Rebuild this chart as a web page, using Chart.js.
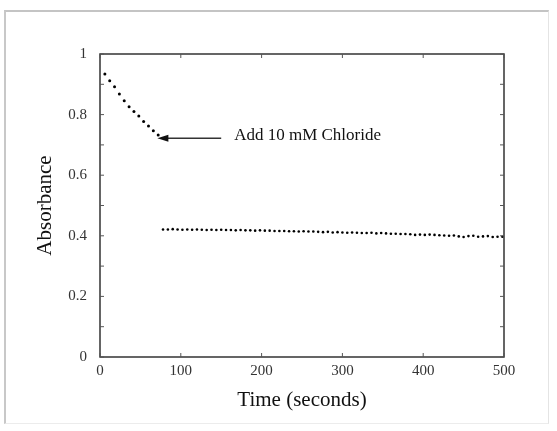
<!DOCTYPE html>
<html>
<head>
<meta charset="utf-8">
<script src="https://cdn.jsdelivr.net/npm/chart.js@4/dist/chart.umd.min.js"></script>
<style>
  html, body { margin: 0; padding: 0; background: #ffffff; }
  #wrap { position: relative; width: 557px; height: 431px; }
  #frame { position: absolute; left: 4px; top: 10px; width: 545px; height: 414px;
           border-top: 2px solid #c4c4c4; border-left: 2px solid #c8c8c8;
           border-right: 1px solid #e4e4e4; border-bottom: 1px solid #ececec; box-sizing: border-box; }
  canvas { position: absolute; left: 0; top: 0; }
</style>
</head>
<body>
<div id="wrap"><div id="frame"></div><canvas id="c" width="557" height="431"></canvas></div>
<script>
// Segment 1: before chloride addition
const timeBefore = [6, 12, 18, 24, 30, 36, 42, 48, 54, 60, 66, 72];
const absBefore  = [0.934, 0.912, 0.892, 0.868, 0.846, 0.826, 0.810, 0.795, 0.777, 0.762, 0.747, 0.733];

// Segment 2: after chloride addition
const timeAfter = [
  78, 84, 90, 96, 102, 108, 114, 120, 126, 132,
  138, 144, 150, 156, 162, 168, 174, 180, 186, 192,
  198, 204, 210, 216, 222, 228, 234, 240, 246, 252,
  258, 264, 270, 276, 282, 288, 294, 300, 306, 312,
  318, 324, 330, 336, 342, 348, 354, 360, 366, 372,
  378, 384, 390, 396, 402, 408, 414, 420, 426, 432,
  438, 444, 450, 456, 462, 468, 474, 480, 486, 492,
  498
];
const absAfter = [
  0.421, 0.421, 0.422, 0.421, 0.420, 0.421, 0.420, 0.421, 0.420, 0.419,
  0.420, 0.419, 0.420, 0.419, 0.419, 0.418, 0.419, 0.418, 0.418, 0.417,
  0.418, 0.417, 0.417, 0.416, 0.416, 0.416, 0.415, 0.415, 0.414, 0.415,
  0.414, 0.414, 0.413, 0.412, 0.413, 0.411, 0.412, 0.411, 0.410, 0.411,
  0.410, 0.409, 0.409, 0.410, 0.408, 0.409, 0.408, 0.407, 0.407, 0.406,
  0.406, 0.405, 0.403, 0.404, 0.403, 0.404, 0.403, 0.402, 0.401, 0.400,
  0.401, 0.398, 0.396, 0.399, 0.400, 0.397, 0.398, 0.399, 0.396, 0.397,
  0.397
];

const xTicks = [0, 100, 200, 300, 400, 500];
const yTicks = [0, 0.2, 0.4, 0.6, 0.8, 1];
const yMinorTicks = [0.1, 0.3, 0.5, 0.7, 0.9];

const annotationText = "Add 10 mM Chloride";
const arrowTip = { x: 71, y: 0.722 };
const arrowTail = { x: 150, y: 0.722 };
const labelPos = { x: 166, y: 0.730 };

const serif = "'Liberation Serif', 'DejaVu Serif', serif";

function toPoints(xs, ys) { return xs.map((x, i) => ({ x: x, y: ys[i] })); }

const framePlugin = {
  id: 'framePlugin',
  afterDraw(chart) {
    const ctx = chart.ctx;
    const a = chart.chartArea;
    const xs = chart.scales.x, ys = chart.scales.y;
    ctx.save();
    ctx.strokeStyle = '#333';
    ctx.lineWidth = 1.5;
    ctx.beginPath();
    ctx.rect(a.left, a.top, a.right - a.left, a.bottom - a.top);
    ctx.stroke();
    ctx.lineWidth = 1;
    ctx.strokeStyle = '#555';
    const tl = 4;
    ctx.beginPath();
    yTicks.concat(yMinorTicks).forEach(v => {
      const py = ys.getPixelForValue(v);
      ctx.moveTo(a.left, py); ctx.lineTo(a.left + tl, py);
      ctx.moveTo(a.right, py); ctx.lineTo(a.right - tl, py);
    });
    xTicks.forEach(v => {
      const px = xs.getPixelForValue(v);
      ctx.moveTo(px, a.bottom); ctx.lineTo(px, a.bottom - tl);
      ctx.moveTo(px, a.top); ctx.lineTo(px, a.top + tl);
    });
    ctx.stroke();

    // annotation arrow
    const tx = xs.getPixelForValue(arrowTip.x), ty = ys.getPixelForValue(arrowTip.y);
    const sx = xs.getPixelForValue(arrowTail.x);
    ctx.strokeStyle = '#333';
    ctx.lineWidth = 1.6;
    ctx.beginPath();
    ctx.moveTo(sx, ty); ctx.lineTo(tx + 6, ty);
    ctx.stroke();
    ctx.fillStyle = '#111';
    ctx.beginPath();
    ctx.moveTo(tx, ty);
    ctx.lineTo(tx + 11, ty - 3.5);
    ctx.lineTo(tx + 11, ty + 3.5);
    ctx.closePath();
    ctx.fill();

    ctx.fillStyle = '#111';
    ctx.font = "17px " + serif;
    ctx.textBaseline = 'middle';
    ctx.textAlign = 'left';
    ctx.fillText(annotationText, xs.getPixelForValue(labelPos.x), ys.getPixelForValue(labelPos.y));
    ctx.restore();
  }
};

new Chart(document.getElementById('c'), {
  type: 'scatter',
  data: {
    datasets: [
      { data: toPoints(timeBefore, absBefore), pointRadius: 1.5, pointBackgroundColor: '#000', pointBorderWidth: 0, showLine: false },
      { data: toPoints(timeAfter, absAfter), pointRadius: 1.3, pointBackgroundColor: '#000', pointBorderWidth: 0, showLine: false }
    ]
  },
  options: {
    responsive: false,
    animation: false,
    events: [],
    layout: { padding: { left: 33, top: 54, right: 53, bottom: 18 } },
    plugins: { legend: { display: false }, tooltip: { enabled: false } },
    scales: {
      x: {
        type: 'linear', min: 0, max: 500,
        afterBuildTicks(s) { s.ticks = xTicks.map(v => ({ value: v })); },
        afterFit(s) { s.height = 56; },
        grid: { display: false, drawTicks: false },
        border: { display: false },
        ticks: { padding: 5, color: '#333', font: { family: serif, size: 15 }, maxRotation: 0 },
        title: { display: true, text: 'Time (seconds)', color: '#111', padding: 0, font: { family: serif, size: 21 } }
      },
      y: {
        type: 'linear', min: 0, max: 1,
        afterBuildTicks(s) { s.ticks = yTicks.map(v => ({ value: v })); },
        afterFit(s) { s.width = 67; },
        grid: { display: false, drawTicks: false },
        border: { display: false },
        ticks: { padding: 13, color: '#333', font: { family: serif, size: 15 },
                 callback: v => String(Math.round(v * 10) / 10) },
        title: { display: true, text: 'Absorbance', color: '#111', padding: 0, font: { family: serif, size: 21 } }
      }
    }
  },
  plugins: [framePlugin]
});
</script>
</body>
</html>
